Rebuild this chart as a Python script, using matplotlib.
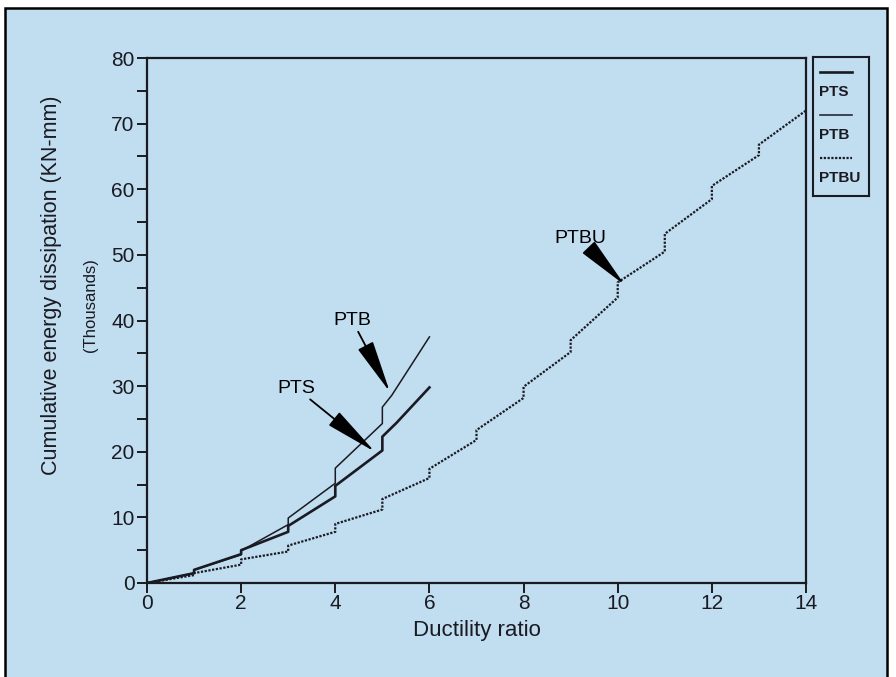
import matplotlib.pyplot as plt
from matplotlib.patches import Rectangle

plt.rcParams['font.family'] = ['Liberation Sans Narrow', 'Liberation Sans', 'DejaVu Sans']

# cumulative energy vs ductility ratio; the vertical jumps are the repeated cycles at each ratio
pts_x = [0, 1, 1, 2, 2, 3, 3, 4, 4, 5, 5, 5.3, 6]
pts_y = [0, 1.5, 2.0, 4.4, 5.0, 7.8, 8.7, 13.2, 14.8, 20.2, 22.3, 24.4, 29.8]

ptb_x = [0, 1, 1, 2, 2, 3, 3, 4, 4, 5, 5, 5.2, 6]
ptb_y = [0, 1.5, 2.0, 4.3, 4.9, 8.9, 9.9, 15.2, 17.5, 24.3, 26.8, 28.6, 37.5]

ptbu_x = [0, 1, 1, 2, 2, 3, 3, 4, 4, 5, 5, 6, 6, 7, 7, 8, 8, 9, 9, 10, 10,
          11, 11, 12, 12, 13, 13, 14]
ptbu_y = [0, 1.2, 1.5, 2.8, 3.6, 4.8, 5.7, 7.8, 9.0, 11.2, 12.8, 16.0, 17.4,
          21.8, 23.3, 28.2, 29.9, 35.2, 37.0, 43.5, 45.8, 50.5, 53.2, 58.5,
          60.5, 65.2, 66.8, 72.0]

series_names = ['PTS', 'PTB', 'PTBU']

panel = '#c1ddf0'
ink = '#1a1a22'

fig = plt.figure(figsize=(8.96, 6.77), dpi=100)
fig.patch.set_facecolor('white')
fig.patches.append(Rectangle((5 / 896, -0.01), 882 / 896, 1 - 8 / 677 + 0.01,
                             transform=fig.transFigure, facecolor=panel,
                             edgecolor='black', linewidth=1.8, zorder=-1))

ax = fig.add_axes([147 / 896, 94 / 677, 659 / 896, 525 / 677])
ax.patch.set_alpha(0)
ax.plot(pts_x, pts_y, color=ink, lw=1.9)
ax.plot(ptb_x, ptb_y, color=ink, lw=1.1)
ax.plot(ptbu_x, ptbu_y, color=ink, lw=1.6, ls=(0, (1.0, 0.7)))

ax.set_xlim(0, 14)
ax.set_ylim(0, 80)
ax.set_xticks(range(0, 15, 2))
ax.set_yticks(range(0, 81, 10))
ax.set_yticks(range(5, 80, 10), minor=True)
for s in ax.spines.values():
    s.set_linewidth(1.6)
    s.set_color(ink)
ax.tick_params(axis='both', which='both', colors=ink, width=1.4,
               labelsize=15)
ax.tick_params(axis='y', which='both', length=7, pad=2)
ax.tick_params(axis='x', length=7, pad=1)
ax.set_xlabel('Ductility ratio', fontsize=16, labelpad=5, color=ink)

fig.text(52 / 896, 1 - 285 / 677, 'Cumulative energy dissipation (KN-mm)',
         rotation=90, ha='center', va='center', fontsize=15.5, color=ink)
fig.text(90 / 896, 1 - 305 / 677, '(Thousands)', rotation=90,
         ha='center', va='center', fontsize=12, color=ink)

arrow = dict(arrowstyle='-|>,head_length=1.5,head_width=0.24',
             mutation_scale=22, color='black', lw=1.3, shrinkA=0, shrinkB=0)
ax.annotate('PTB', xy=(5.16, 29.1), xytext=(4.36, 40.0), fontsize=14,
            ha='center', va='center', arrowprops=arrow)
ax.annotate('PTS', xy=(4.84, 20.0), xytext=(3.17, 29.7), fontsize=14,
            ha='center', va='center', arrowprops=arrow)
ax.annotate('PTBU', xy=(10.15, 45.4), xytext=(9.2, 52.5), fontsize=14,
            ha='center', va='center', arrowprops=arrow)

# key box to the right of the plot: line sample above each name
key = fig.add_axes([813 / 896, 1 - 196 / 677, 56 / 896, 139 / 677])
key.patch.set_alpha(0)
key.set_xlim(0, 1)
key.set_ylim(0, 1)
key.set_xticks([])
key.set_yticks([])
for s in key.spines.values():
    s.set_linewidth(1.5)
    s.set_color(ink)
styles = [dict(lw=1.9, ls='-'), dict(lw=1.1, ls='-'), dict(lw=1.6, ls=(0, (1.0, 0.7)))]
for i, (name, st) in enumerate(zip(series_names, styles)):
    top = 0.89 - i * 0.31
    key.plot([0.12, 0.70], [top, top], color=ink, **st)
    key.text(0.1, top - 0.14, name, fontsize=11, fontweight='bold',
             ha='left', va='center', color=ink)

fig.savefig('out.png', dpi=100, facecolor='white')
